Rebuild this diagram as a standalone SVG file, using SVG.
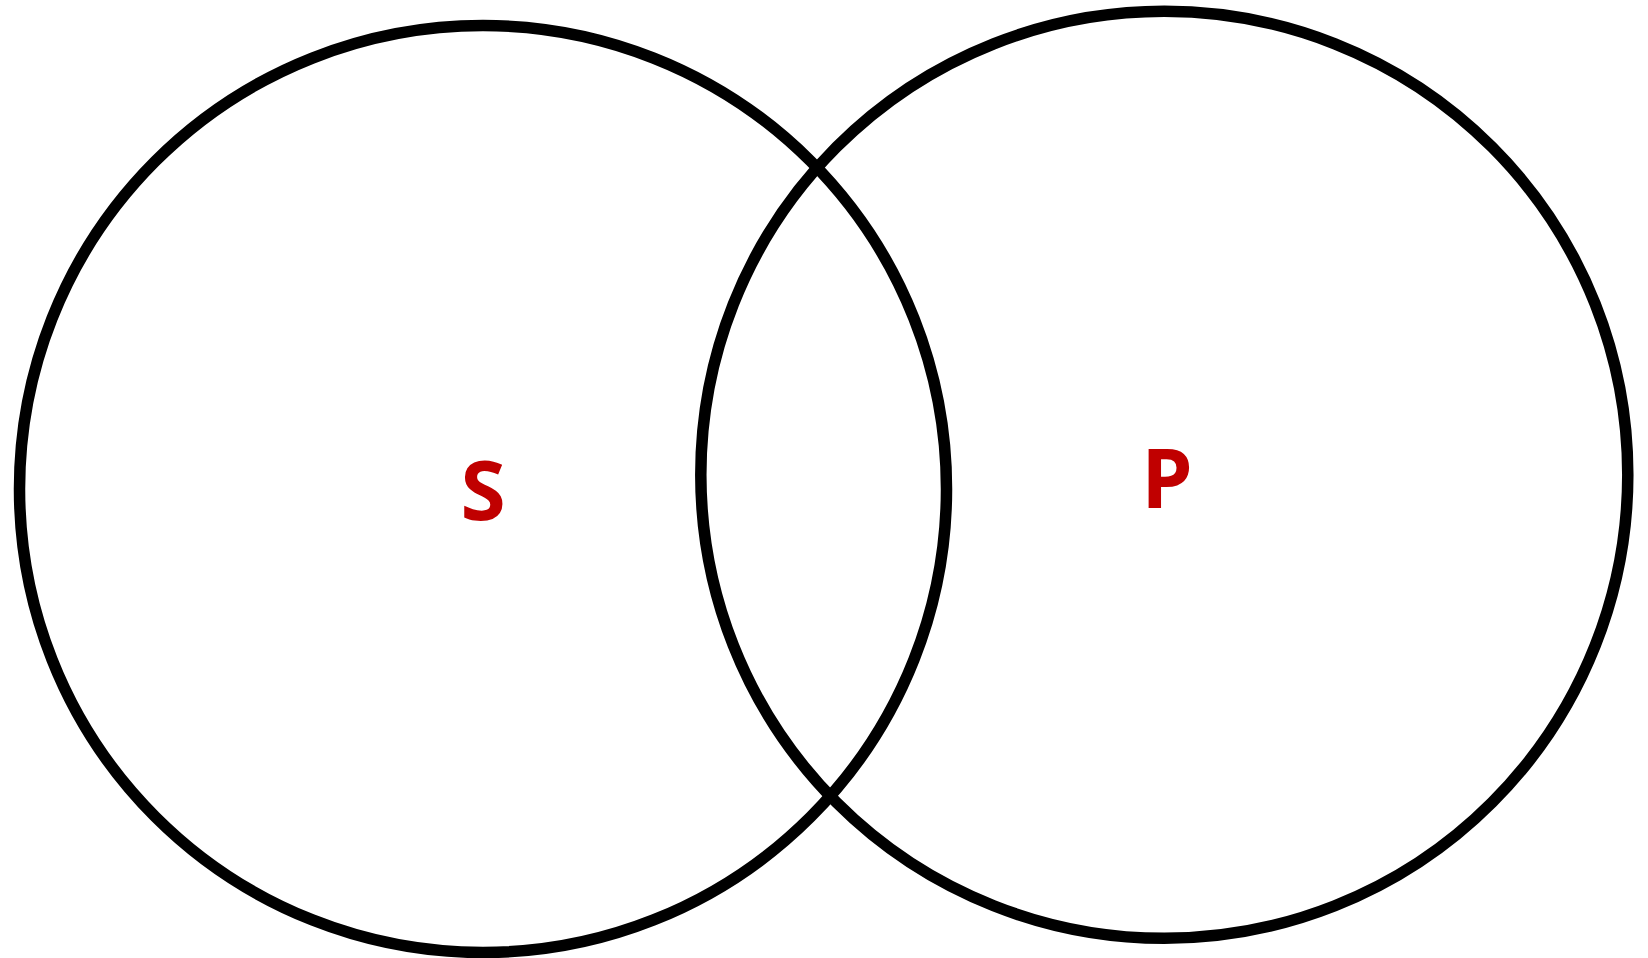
<svg xmlns="http://www.w3.org/2000/svg" width="1648" height="958" viewBox="0 0 1648 958">
<style>
.c{fill:none;stroke:#000;stroke-width:11.5}
.t{font-family:"Open Sans","Noto Sans",sans-serif;font-weight:bold;font-size:82px;fill:#C00000;text-anchor:middle}
</style>
<rect width="1648" height="958" fill="#fff"/>
<g id="circleS"><circle class="c" cx="483" cy="489" r="463.5"/><text class="t" x="483" y="520">S</text></g>
<g id="circleP"><circle class="c" cx="1164.3" cy="474.8" r="463.5"/><text class="t" x="1167" y="508">P</text></g>
<g id="connectors"/>
</svg>
